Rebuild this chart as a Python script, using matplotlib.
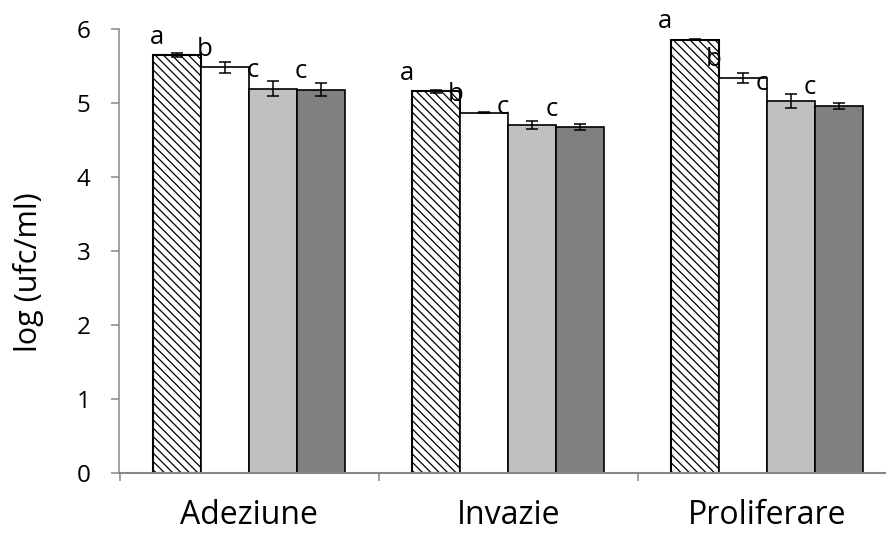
import numpy as np
import matplotlib
matplotlib.use("Agg")
import matplotlib.pyplot as plt

plt.rcParams['font.family'] = ['Open Sans', 'DejaVu Sans']
plt.rcParams['hatch.linewidth'] = 0.9

categories = ["Adeziune", "Invazie", "Proliferare"]
series1 = [5.645, 5.16, 5.857]
series2 = [5.48, 4.87, 5.34]
series3 = [5.195, 4.70, 5.02]
series4 = [5.18, 4.67, 4.96]
err1 = [0.03, 0.02, 0.01]
err2 = [0.075, 0.01, 0.065]
err3 = [0.10, 0.05, 0.095]
err4 = [0.09, 0.04, 0.04]
letters1 = ["a", "a", "a"]
letters2 = ["b", "b", "b"]
letters3 = ["c", "c", "c"]
letters4 = ["c", "c", "c"]
yticks = [0, 1, 2, 3, 4, 5, 6]

values = [series1, series2, series3, series4]
errors = [err1, err2, err3, err4]
letters = [letters1, letters2, letters3, letters4]
faces = ["white", "white", "#c0c0c0", "#808080"]
hatches = ["\\\\\\\\", None, None, None]
edge_lw = [1.5, 1.2, 1.2, 1.2]
group_dx_px = [4, -5, -6]

W, H = 886, 533
fig = plt.figure(figsize=(W / 100, H / 100), dpi=100)
left_px, right_px, top_px, bottom_px = 119.5, 897.0, 29.0, 472.7
ax = fig.add_axes([left_px / W, (H - bottom_px) / H, (right_px - left_px) / W, (bottom_px - top_px) / H])

x = np.arange(len(categories))
w = 48 / 259.0
nser = len(values)
for i in range(nser):
    pos = x + (i - (nser - 1) / 2) * w
    ax.bar(pos, values[i], width=w, color=faces[i], edgecolor="black",
           linewidth=edge_lw[i], hatch=hatches[i], zorder=2)
    ax.errorbar(pos, values[i], yerr=errors[i], fmt="none", ecolor="black",
                elinewidth=1.1, capsize=4.3, capthick=1.1, zorder=3)
    for j in range(len(categories)):
        left_edge = pos[j] - w / 2
        ax.annotate(letters[i][j], xy=(left_edge, values[i][j]), xycoords="data",
                    xytext=(group_dx_px[j] * 0.72, 13), textcoords="offset points",
                    ha="center", va="center", fontsize=18.5, color="black", zorder=4)

ax.set_xlim(-0.5, 2.5)
ax.set_ylim(0, 6)
ax.set_yticks(yticks)
ax.set_xticks(x)
ax.set_xticklabels(categories, fontsize=23)
ax.set_xticks([-0.5, 0.5, 1.5, 2.5], minor=True)
ax.tick_params(axis="x", which="major", length=0, pad=19)
ax.tick_params(axis="x", which="minor", length=5.8, width=1.1, color="#868686", direction="out")
ax.tick_params(axis="y", length=5.8, width=1.1, color="#868686", direction="out", labelsize=17.5, pad=15)

for s in ["top", "right"]:
    ax.spines[s].set_visible(False)
ax.spines["left"].set_color("#868686")
ax.spines["left"].set_linewidth(1.1)
ax.spines["bottom"].set_color("#868686")
ax.spines["bottom"].set_linewidth(1.5)

ax.set_ylabel("log (ufc/ml)", fontsize=22)
ax_w_px = right_px - left_px
ax.yaxis.set_label_coords(-(left_px - 29) / ax_w_px, (bottom_px - 272) / (bottom_px - top_px))
ax.yaxis.label.set_va("center")

fig.savefig("out.png", dpi=100)
